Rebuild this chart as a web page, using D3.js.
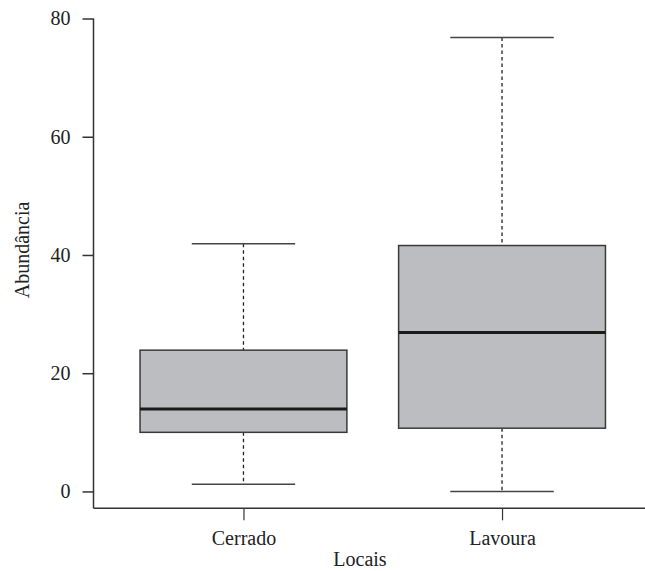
<!DOCTYPE html>
<html>
<head>
<meta charset="utf-8">
<script src="https://cdn.jsdelivr.net/npm/d3@7"></script>
<style>
  html, body { margin: 0; padding: 0; background: #fff; }
  svg { display: block; }
</style>
</head>
<body>
<svg id="chart" width="645" height="571"></svg>
<script>
// ---- data ----
const categories = ["Cerrado", "Lavoura"];
const whiskerLow = [1.2, 0];
const q1 = [10.0, 10.7];
const median = [13.95, 26.9];
const q3 = [23.9, 41.6];
const whiskerHigh = [41.9, 76.8];
const yTicks = [0, 20, 40, 60, 80];
const xLabel = "Locais";
const yLabel = "Abundância";

(function () {
const data = categories.map((c, i) => ({
  cat: c, pos: i + 1, lo: whiskerLow[i], q1: q1[i], med: median[i], q3: q3[i], hi: whiskerHigh[i]
}));

const svg = d3.select("#chart");
const font = "'Liberation Serif', 'Times New Roman', serif";

const mLeft = 93.5, mRight = 652, mTop = 18.5, mBottom = 508.3;
const x = d3.scaleLinear().domain([0.42, 2.58]).range([mLeft, mRight]);
const y = d3.scaleLinear().domain([-2.85, 80]).range([mBottom, mTop]);

const boxW = 0.8, capW = 0.4;

// frame (L shape)
svg.append("line").attr("x1", mLeft).attr("x2", mLeft).attr("y1", y(80)).attr("y2", mBottom)
  .attr("stroke", "#333").attr("stroke-width", 1.5);
svg.append("line").attr("x1", mLeft).attr("x2", 645).attr("y1", mBottom).attr("y2", mBottom)
  .attr("stroke", "#333").attr("stroke-width", 1.5);

// y axis
const yAxis = svg.append("g").attr("transform", `translate(${mLeft},0)`)
  .call(d3.axisLeft(y).tickValues(yTicks).tickSize(11).tickPadding(12).tickFormat(d3.format("d")));
yAxis.select(".domain").remove();
yAxis.selectAll("line").attr("stroke", "#333").attr("stroke-width", 1.5);
yAxis.selectAll("text").attr("font-family", font).attr("font-size", 20).attr("fill", "#222");

// x axis
const xAxis = svg.append("g").attr("transform", `translate(0,${mBottom})`)
  .call(d3.axisBottom(x).tickValues(data.map(d => d.pos)).tickSize(12).tickPadding(10.5)
    .tickFormat((d, i) => categories[i]));
xAxis.select(".domain").remove();
xAxis.selectAll("line").attr("stroke", "#333").attr("stroke-width", 1.2);
xAxis.selectAll("text").attr("font-family", font).attr("font-size", 20).attr("fill", "#222");

// boxes
const g = svg.append("g").selectAll("g").data(data).join("g");

// dashed whiskers
g.append("line").attr("x1", d => x(d.pos)).attr("x2", d => x(d.pos))
  .attr("y1", d => y(d.hi)).attr("y2", d => y(d.q3))
  .attr("stroke", "#222").attr("stroke-width", 1.3).attr("stroke-dasharray", "3.5,3");
g.append("line").attr("x1", d => x(d.pos)).attr("x2", d => x(d.pos))
  .attr("y1", d => y(d.q1)).attr("y2", d => y(d.lo))
  .attr("stroke", "#222").attr("stroke-width", 1.3).attr("stroke-dasharray", "3.5,3");

// caps
g.append("line").attr("x1", d => x(d.pos - capW / 2)).attr("x2", d => x(d.pos + capW / 2))
  .attr("y1", d => y(d.hi)).attr("y2", d => y(d.hi))
  .attr("stroke", "#444").attr("stroke-width", 1.5);
g.append("line").attr("x1", d => x(d.pos - capW / 2)).attr("x2", d => x(d.pos + capW / 2))
  .attr("y1", d => y(d.lo)).attr("y2", d => y(d.lo))
  .attr("stroke", "#444").attr("stroke-width", 1.5);

// box
g.append("rect").attr("x", d => x(d.pos - boxW / 2)).attr("width", d => x(d.pos + boxW / 2) - x(d.pos - boxW / 2))
  .attr("y", d => y(d.q3)).attr("height", d => y(d.q1) - y(d.q3))
  .attr("fill", "#bcbdc1").attr("stroke", "#3a3a3a").attr("stroke-width", 1.5);

// median
g.append("line").attr("x1", d => x(d.pos - boxW / 2)).attr("x2", d => x(d.pos + boxW / 2))
  .attr("y1", d => y(d.med)).attr("y2", d => y(d.med))
  .attr("stroke", "#1a1a1a").attr("stroke-width", 3);

// axis titles
svg.append("text").attr("x", 360).attr("y", 566).attr("text-anchor", "middle")
  .attr("font-family", font).attr("font-size", 20).attr("fill", "#222").text(xLabel);
svg.append("text").attr("transform", `translate(28.5,250) rotate(-90)`).attr("text-anchor", "middle")
  .attr("font-family", font).attr("font-size", 20).attr("fill", "#222").text(yLabel);
})();
</script>
</body>
</html>
